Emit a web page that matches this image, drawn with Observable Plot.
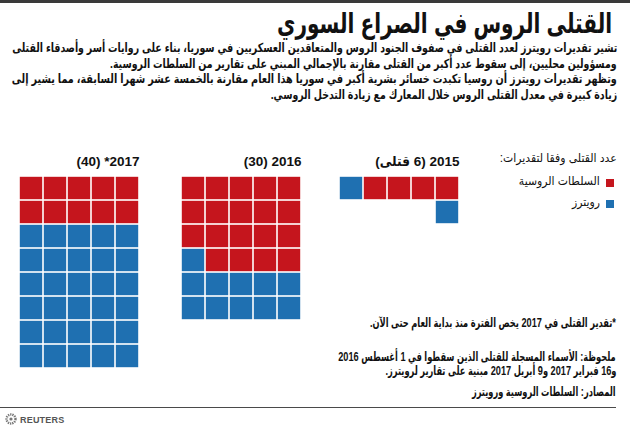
<!DOCTYPE html>
<html><head><meta charset="utf-8">
<script src="https://cdn.jsdelivr.net/npm/d3@7"></script>
<script src="https://cdn.jsdelivr.net/npm/@observablehq/plot@0.6"></script>
<style>
body{margin:0;background:#fff;}
#page{position:relative;width:630px;height:428px;overflow:hidden;font-family:"Liberation Sans","DejaVu Sans Condensed","DejaVu Sans",Arial,sans-serif;color:#111;}
.t{position:absolute;direction:rtl;white-space:nowrap;}
#topbar{position:absolute;left:0;top:0;width:630px;height:3px;background:#3a3a3a;}
#title{right:18px;top:8px;font-size:28px;line-height:32px;font-weight:bold;}
.body{position:absolute;right:13px;direction:rtl;font-size:12.5px;line-height:15px;font-weight:bold;white-space:nowrap;}
#chart{position:absolute;left:0;top:0;}
.leg{position:absolute;direction:rtl;font-size:12px;line-height:14px;white-space:nowrap;}
.sw{position:absolute;width:8px;height:8px;}
.foot{position:absolute;right:14px;direction:rtl;font-size:12.5px;line-height:14px;font-weight:bold;white-space:nowrap;}
#footer{position:absolute;left:0;top:407px;width:616px;height:20px;border-top:1px solid #4a4a4a;box-sizing:border-box;}
#logo{position:absolute;left:5px;top:5px;font-size:9px;font-weight:bold;color:#555;font-family:"Liberation Sans",Arial,sans-serif;letter-spacing:0.2px;line-height:12px;}
</style></head>
<body><div id="page">
<div id="topbar"></div>
<div id="title" class="t">القتلى الروس في الصراع السوري</div>
<div id="b1" class="body" style="top:41px">تشير تقديرات رويترز لعدد القتلى في صفوف الجنود الروس والمتعاقدين العسكريين في سوريا، بناء على روايات أسر وأصدقاء القتلى</div>
<div id="b2" class="body" style="top:57px">ومسؤولين محليين، إلى سقوط عدد أكبر من القتلى مقارنة بالإجمالي المبني على تقارير من السلطات الروسية.</div>
<div id="b3" class="body" style="top:72px">وتظهر تقديرات رويترز أن روسيا تكبدت خسائر بشرية أكبر في سوريا هذا العام مقارنة بالخمسة عشر شهرا السابقة، مما يشير إلى</div>
<div id="b4" class="body" style="top:88px">زيادة كبيرة في معدل القتلى الروس خلال المعارك مع زيادة التدخل الروسي.</div>
<div id="chart"></div>
<div id="legend"></div>
<div id="f1" class="foot" style="top:316px">*تقدير القتلى في 2017 يخص الفترة منذ بداية العام حتى الآن.</div>
<div id="f2" class="foot" style="top:350px">ملحوظة: الأسماء المسجلة للقتلى الذين سقطوا في 1 أغسطس 2016</div>
<div id="f3" class="foot" style="top:364px">و16 فبراير 2017 و9 أبريل 2017 مبنية على تقارير لرويترز.</div>
<div id="f4" class="foot" style="top:385px">المصادر: السلطات الروسية ورويترز</div>
<div id="footer"><div id="logo"><svg width="12" height="12" viewBox="0 0 12 12" style="vertical-align:-2px;margin-right:3px"><circle cx="6" cy="6" r="4.5" fill="none" stroke="#777" stroke-width="2.4" stroke-dasharray="1.3 0.9"/><circle cx="6" cy="6" r="1.6" fill="#777"/></svg>REUTERS</div></div>
</div>
<script>
// ---- data ----
const years = ["2017", "2016", "2015"];
const yearLabels = ["2017* (40)", "2016 (30)", "2015 (6 قتلى)"];
const russianAuthorities = [10, 19, 4];
const reutersAdditional = [30, 11, 2];
const seriesNames = ["السلطات الروسية", "رويترز"];
const legendTitle = "عدد القتلى وفقا لتقديرات:";
const seriesColors = ["#c5151d", "#1f70b1"];

// ---- compress text horizontally to the reference widths ----
function squeeze(el, k) {
  el.style.transformOrigin = "right center";
  el.style.transform = "scaleX(" + k + ")";
}
function fitX(el, target) {
  const k = target / el.getBoundingClientRect().width;
  squeeze(el, k);
  return k;
}
const $ = id => document.getElementById(id);
fitX($("title"), 335);
const kb = fitX($("b1"), 605);
fitX($("b3"), 605);
squeeze($("b2"), kb); squeeze($("b4"), kb);
const kf = fitX($("f1"), 246);
["f2","f3","f4"].forEach(id => squeeze($(id), kf));

// ---- layout (cell units, 1 unit = one waffle cell) ----
const W = 630, H = 428, cellPx = 24, cols = 5;
const groupLeft = [19 / cellPx, 181 / cellPx, 339 / cellPx];
const gridTop = 176 / cellPx;

const cells = [];
years.forEach((yr, g) => {
  const counts = [russianAuthorities[g], reutersAdditional[g]];
  let i = 0;
  counts.forEach((n, s) => {
    for (let k = 0; k < n; k++, i++) {
      const row = Math.floor(i / cols);
      const col = cols - 1 - (i % cols); // filled right-to-left
      cells.push({year: yr, series: seriesNames[s], x: groupLeft[g] + col, y: gridTop + row});
    }
  });
});
const labelData = years.map((yr, g) => ({label: yearLabels[g], x: groupLeft[g] + cols, y: gridTop}));

const chart = Plot.plot({
  width: W, height: H,
  margin: 0,
  x: {domain: [0, W / cellPx], range: [0, W], axis: null},
  y: {domain: [0, H / cellPx], range: [0, H], axis: null},
  color: {domain: seriesNames, range: seriesColors},
  style: {background: "transparent", fontFamily: '"Liberation Sans","DejaVu Sans Condensed","DejaVu Sans",Arial,sans-serif'},
  marks: [
    Plot.rect(cells, {x1: "x", x2: d => d.x + 1, y1: "y", y2: d => d.y + 1, fill: "series", inset: 0.8}),
    Plot.text(labelData, {x: "x", y: "y", text: "label", textAnchor: "start", lineAnchor: "bottom", dy: -11, fontSize: 13.5, fontWeight: "bold", fill: "#111"})
  ]
});
chart.querySelectorAll("text").forEach(t => t.setAttribute("direction", "rtl"));
chart.style.direction = "rtl";
$("chart").appendChild(chart);

// legend
const leg = $("legend");
const lt = document.createElement("div");
lt.className = "leg"; lt.style.right = "13px"; lt.style.top = "151px"; lt.textContent = legendTitle;
leg.appendChild(lt);
const kl = fitX(lt, 117);
seriesNames.forEach((name, i) => {
  const sw = document.createElement("div");
  sw.className = "sw"; sw.style.left = "606px"; sw.style.top = (179 + i * 21) + "px"; sw.style.background = seriesColors[i];
  leg.appendChild(sw);
  const lb = document.createElement("div");
  lb.className = "leg"; lb.style.right = "30px"; lb.style.top = (174 + i * 21) + "px"; lb.textContent = name;
  leg.appendChild(lb);
  squeeze(lb, kl);
});
</script>
</body></html>
